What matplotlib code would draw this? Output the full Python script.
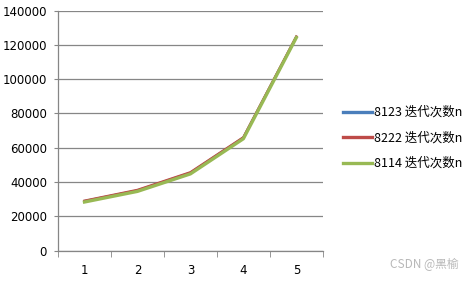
import numpy as np
import matplotlib.pyplot as plt

plt.rcParams['font.family'] = ['Noto Sans CJK SC', 'DejaVu Sans']

# data
x_labels = [1, 2, 3, 4, 5]
s8123 = [28800, 35000, 45300, 65800, 124500]
s8222 = [29000, 35300, 45600, 66000, 124800]
s8114 = [28300, 34500, 44700, 65200, 124200]
names = ['8123 迭代次数n', '8222 迭代次数n', '8114 迭代次数n']
colors = ['#4a7ebb', '#be4b48', '#98b954']

fig = plt.figure(figsize=(4.74, 2.81), dpi=100)
ax = fig.add_axes([0.1224, 0.1085, 0.5586, 0.8541])

ax.plot(x_labels, s8123, color=colors[0], lw=1.8, label=names[0], zorder=3)
ax.plot(x_labels, s8222, color=colors[1], lw=1.8, label=names[1], zorder=4)
ax.plot(x_labels, s8114, color=colors[2], lw=2.4, label=names[2], zorder=5)

ax.set_xlim(0.5, 5.5)
ax.set_ylim(0, 140000)
ax.set_yticks(np.arange(0, 140001, 20000))
ax.set_xticks(x_labels)
ax.set_xticks(np.arange(0.5, 5.6, 1), minor=True)
ax.tick_params(axis='x', which='major', length=0, pad=10, labelsize=8.5)
ax.tick_params(axis='x', which='minor', length=4, color='#868686', direction='out')
ax.tick_params(axis='y', length=3, color='#868686', labelsize=8.5, pad=5)
for lab in ax.get_xticklabels() + ax.get_yticklabels():
    lab.set_family('DejaVu Sans')

ax.grid(axis='y', color='#868686', lw=0.9)
ax.set_axisbelow(True)
for s in ['top', 'right']:
    ax.spines[s].set_visible(False)
for s in ['left', 'bottom']:
    ax.spines[s].set_color('#868686')
    ax.spines[s].set_linewidth(0.9)

leg = fig.legend(loc='center left', bbox_to_anchor=(0.711, 0.509), frameon=False,
                 fontsize=9, handlelength=2.3, handletextpad=0.15, labelspacing=1.0,
                 borderpad=0)
for h in leg.legend_handles:
    h.set_linewidth(2.4)

fig.text(0.967, 0.035, 'CSDN @黑榆', color='#b8b8b8', fontsize=8.5, ha='right', va='bottom')

plt.savefig('out.png', dpi=100)
